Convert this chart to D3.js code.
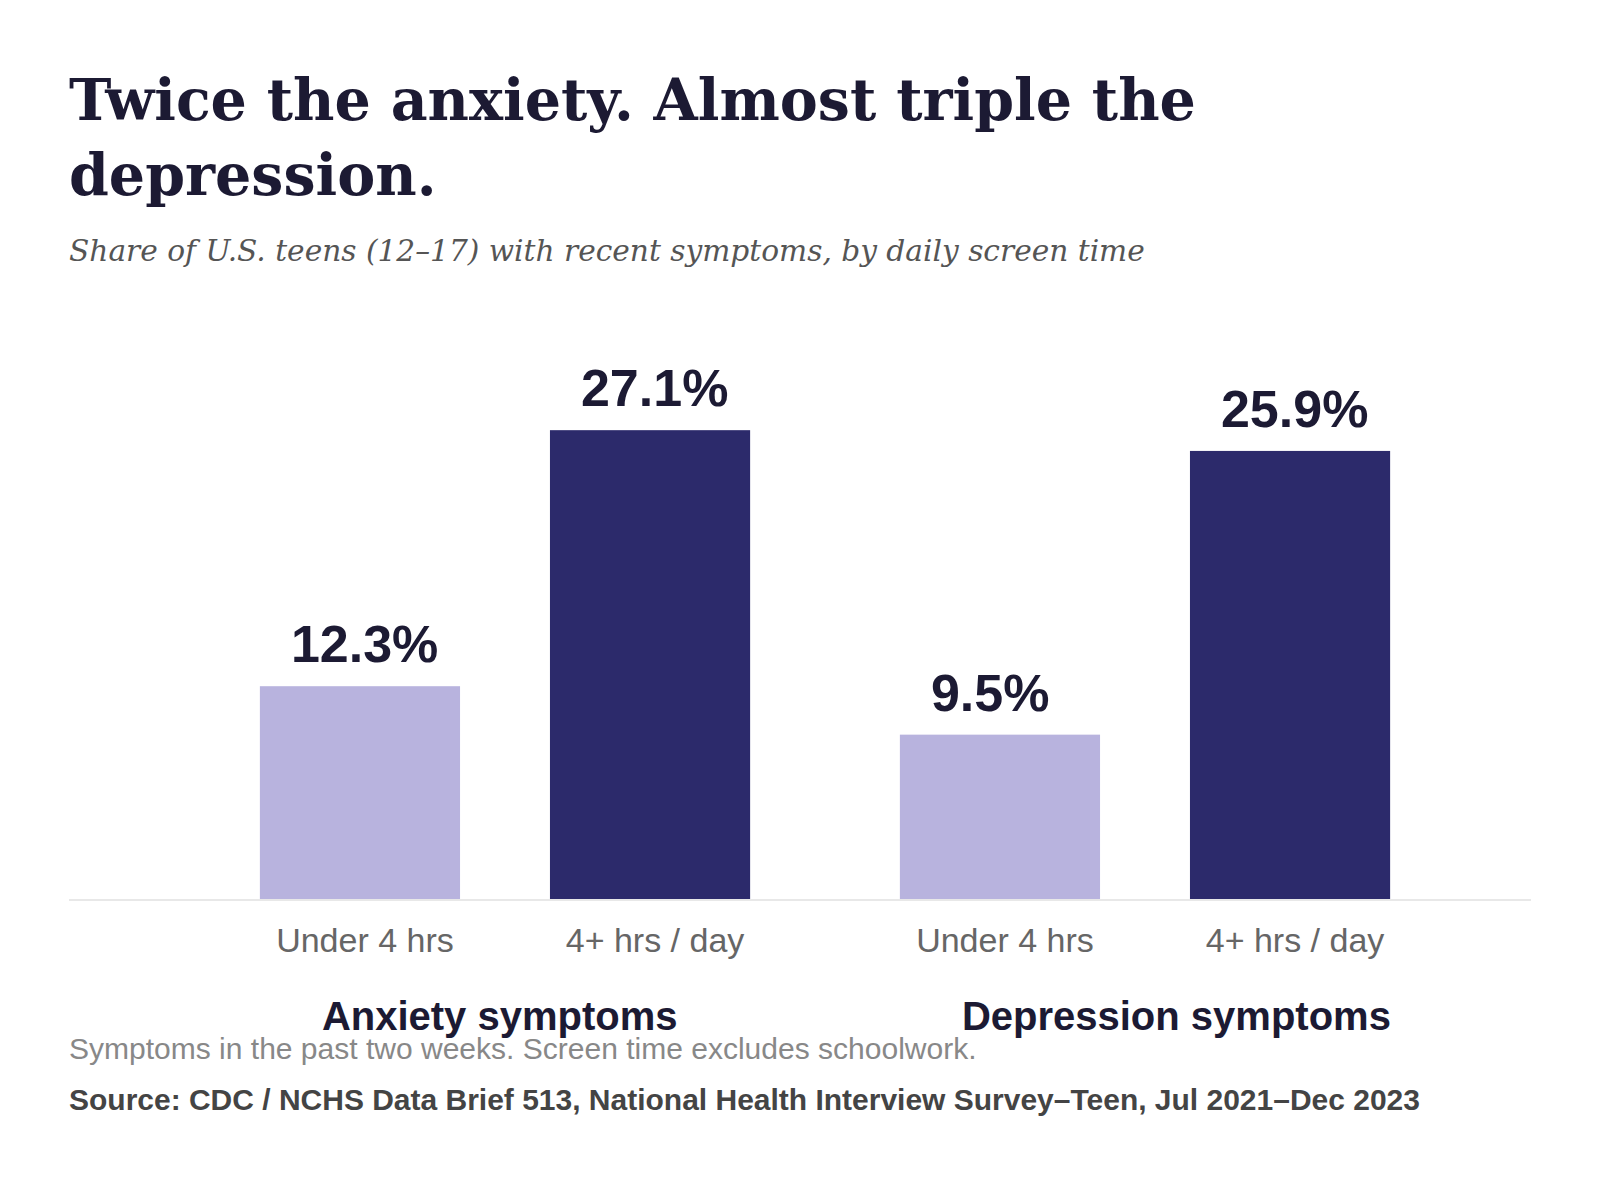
<!DOCTYPE html>
<html>
<head>
<meta charset="utf-8">
<script src="https://cdn.jsdelivr.net/npm/d3@7"></script>
<style>
  body { margin: 0; background: #fff; }
  svg { display: block; }
</style>
</head>
<body>
<svg id="chart" width="1600" height="1180"></svg>
<script>
// Data ---------------------------------------------------------
const groups = ["Anxiety symptoms", "Depression symptoms"];
const screenTime = ["Under 4 hrs", "4+ hrs / day"];
const under4 = [12.3, 9.5];   // % of teens, under 4 hrs of screen time
const over4 = [27.1, 25.9];   // % of teens, 4+ hrs / day

const titleLines = ["Twice the anxiety. Almost triple the", "depression."];
const subtitle = "Share of U.S. teens (12\u201317) with recent symptoms, by daily screen time";
const note = "Symptoms in the past two weeks. Screen time excludes schoolwork.";
const source = "Source: CDC / NCHS Data Brief 513, National Health Interview Survey\u2013Teen, Jul 2021\u2013Dec 2023";

// flat rows for the bars
const rows = [];
groups.forEach((g, i) => {
  rows.push({ group: g, time: screenTime[0], value: under4[i] });
  rows.push({ group: g, time: screenTime[1], value: over4[i] });
});

const svg = d3.select("#chart");
const ink = "#1c1a33";
const sans = "'Liberation Sans', Arial, Helvetica, sans-serif";
const serif = "'DejaVu Serif', Georgia, serif";

// fit a text element to a target width by changing its font size
function fitWidth(sel, target) {
  const w = sel.node().getComputedTextLength();
  const fs = parseFloat(sel.attr("font-size"));
  sel.attr("font-size", (fs * target / w).toFixed(2));
}

// Title + subtitle ---------------------------------------------
const title = svg.append("text")
  .attr("x", 69)
  .attr("y", 120)
  .attr("font-family", serif)
  .attr("font-weight", "bold")
  .attr("font-size", 60)
  .attr("fill", ink);

title.selectAll("tspan")
  .data(titleLines)
  .join("tspan")
  .attr("x", 69)
  .attr("dy", (d, i) => i === 0 ? 0 : 75)
  .text(d => d);

// size the title so the first line spans like the original
const firstLine = title.select("tspan").node();
{
  const w = firstLine.getComputedTextLength();
  title.attr("font-size", (60 * 1127 / w).toFixed(2));
}

const sub = svg.append("text")
  .attr("x", 69)
  .attr("y", 261)
  .attr("font-family", serif)
  .attr("font-style", "italic")
  .attr("font-size", 30)
  .attr("fill", "#555")
  .text(subtitle);
fitWidth(sub, 1076);

// Scales -------------------------------------------------------
const x0 = d3.scaleBand()
  .domain(groups)
  .range([185, 1465])
  .paddingInner(0.234)
  .paddingOuter(0.117);

const x1 = d3.scaleBand()
  .domain(screenTime)
  .range([0, x0.bandwidth()])
  .paddingInner(0.31)
  .paddingOuter(0);

const y = d3.scaleLinear()
  .domain([0, 30])
  .range([899, 380]);

const color = d3.scaleOrdinal()
  .domain(screenTime)
  .range(["#b8b3de", "#2c2a6b"]);

// Bars ---------------------------------------------------------
const plot = svg.append("g");

plot.selectAll("rect.bar")
  .data(rows)
  .join("rect")
  .attr("class", "bar")
  .attr("x", d => x0(d.group) + x1(d.time))
  .attr("y", d => y(d.value))
  .attr("width", x1.bandwidth())
  .attr("height", d => y(0) - y(d.value))
  .attr("fill", d => color(d.time));

// baseline rule
svg.append("line")
  .attr("x1", 69)
  .attr("x2", 1531)
  .attr("y1", y(0) + 1)
  .attr("y2", y(0) + 1)
  .attr("stroke", "#e8e8e8")
  .attr("stroke-width", 2);

// value labels (start-aligned a bit inside the bar, like the original)
plot.selectAll("text.value")
  .data(rows)
  .join("text")
  .attr("class", "value")
  .attr("x", d => x0(d.group) + x1(d.time) + 31)
  .attr("y", d => y(d.value) - 24)
  .attr("font-family", sans)
  .attr("font-weight", "bold")
  .attr("font-size", 52)
  .attr("fill", ink)
  .text(d => d.value.toFixed(1) + "%");

// category labels under each bar
plot.selectAll("text.cat")
  .data(rows)
  .join("text")
  .attr("class", "cat")
  .attr("x", d => x0(d.group) + x1(d.time) + x1.bandwidth() / 2 + 5)
  .attr("y", 952)
  .attr("text-anchor", "middle")
  .attr("font-family", sans)
  .attr("font-size", 34)
  .attr("fill", "#666")
  .text(d => d.time);

// group labels (start-aligned a little inside each group)
plot.selectAll("text.group")
  .data(groups)
  .join("text")
  .attr("class", "group")
  .attr("x", d => x0(d) + 62)
  .attr("y", 1030)
  .attr("font-family", sans)
  .attr("font-weight", "bold")
  .attr("font-size", 40)
  .attr("fill", ink)
  .text(d => d);

// Footer -------------------------------------------------------
const noteText = svg.append("text")
  .attr("x", 69)
  .attr("y", 1059)
  .attr("font-family", sans)
  .attr("font-size", 28)
  .attr("fill", "#888")
  .text(note);
fitWidth(noteText, 908);

const sourceText = svg.append("text")
  .attr("x", 69)
  .attr("y", 1110)
  .attr("font-family", sans)
  .attr("font-weight", "bold")
  .attr("font-size", 27)
  .attr("fill", "#444")
  .text(source);
fitWidth(sourceText, 1351);
</script>
</body>
</html>
